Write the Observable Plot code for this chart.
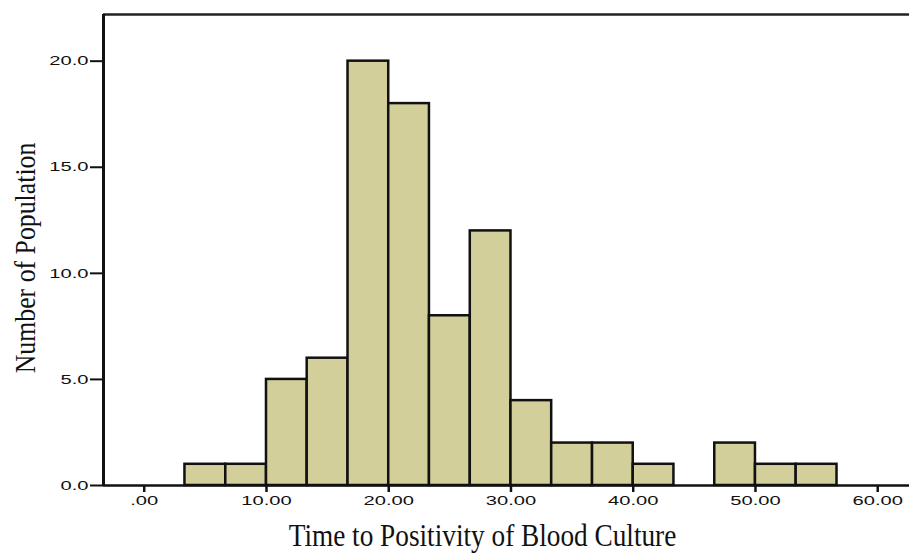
<!DOCTYPE html>
<html>
<head>
<meta charset="utf-8">
<script src="https://cdn.jsdelivr.net/npm/d3@7"></script>
<script src="https://cdn.jsdelivr.net/npm/@observablehq/plot@0.6"></script>
<style>
  html, body { margin: 0; padding: 0; background: #fff; }
  #chart svg { display: block; }
</style>
</head>
<body>
<div id="chart"></div>
<script>
// Histogram bins (hours) and counts
const binStart = [3.33, 6.67, 10, 13.33, 16.67, 20, 23.33, 26.67, 30, 33.33, 36.67, 40, 43.33, 46.67, 50, 53.33];
const binEnd   = [6.67, 10, 13.33, 16.67, 20, 23.33, 26.67, 30, 33.33, 36.67, 40, 43.33, 46.67, 50, 53.33, 56.67];
const counts   = [1, 1, 5, 6, 20, 18, 8, 12, 4, 2, 2, 1, 0, 2, 1, 1];

const xTicks = [0, 10, 20, 30, 40, 50, 60];
const xTickLabels = [".00", "10.00", "20.00", "30.00", "40.00", "50.00", "60.00"];
const yTicks = [0, 5, 10, 15, 20];
const yTickLabels = ["0.0", "5.0", "10.0", "15.0", "20.0"];

const xTitle = "Time to Positivity of Blood Culture";
const yTitle = "Number of Population";

const xDomain = [-3.333, 62.6];
const yDomain = [0, 22.2];

const bins = binStart.map((s, i) => ({x1: s, x2: binEnd[i], count: counts[i]})).filter(d => d.count > 0);

const chart = Plot.plot({
  width: 909,
  height: 553,
  marginLeft: 103,
  marginRight: 0,
  marginTop: 14,
  marginBottom: 68,
  style: {fontFamily: "'Liberation Sans', Arial, sans-serif", fontSize: "13px", color: "#111", background: "#fff"},
  x: {domain: xDomain},
  y: {domain: yDomain},
  marks: [
    Plot.rectY(bins, {x1: "x1", x2: "x2", y: "count", fill: "#d3cf9a", stroke: "#111", strokeWidth: 2.5}),
    Plot.ruleY([0], {stroke: "#111", strokeWidth: 2.5}),
    Plot.ruleY([yDomain[1]], {stroke: "#222", strokeWidth: 2.5}),
    Plot.ruleX([xDomain[0]], {stroke: "#111", strokeWidth: 3}),
    Plot.axisX({ticks: xTicks, tickFormat: (d) => xTickLabels[xTicks.indexOf(d)], tickSize: 7, tickPadding: 3, strokeWidth: 2.5, label: null}),
    Plot.axisY({ticks: yTicks, tickFormat: (d) => yTickLabels[yTicks.indexOf(d)], tickSize: 13, tickPadding: 2, strokeWidth: 2, label: null}),
    Plot.text([xTitle], {frameAnchor: "bottom", textAnchor: "middle", dx: -24, dy: 60, fontFamily: "'Liberation Serif', 'Times New Roman', serif", fontSize: 31, fill: "#111"}),
    Plot.text([yTitle], {frameAnchor: "left", textAnchor: "middle", rotate: -90, dx: -78, dy: 8, fontFamily: "'Liberation Serif', 'Times New Roman', serif", fontSize: 30, fill: "#111"})
  ]
});

document.getElementById("chart").appendChild(chart);

// Glyph proportions: tick labels are stretched wide, titles are condensed
function scaleText(el, sx, sy) {
  let t = el.getAttribute("transform") || "";
  const xa = el.getAttribute("x");
  if (xa !== null && !isNaN(+xa)) {
    t += ` translate(${+xa},0)`;
    el.removeAttribute("x");
  }
  el.setAttribute("transform", `${t} scale(${sx},${sy})`);
}
chart.querySelectorAll("text").forEach(el => {
  const s = el.textContent;
  if (s === xTitle) scaleText(el, 0.88, 1);
  else if (s === yTitle) scaleText(el, 0.86, 1);
  else if (xTickLabels.includes(s) || yTickLabels.includes(s)) scaleText(el, 1.55, 1);
});
</script>
</body>
</html>
